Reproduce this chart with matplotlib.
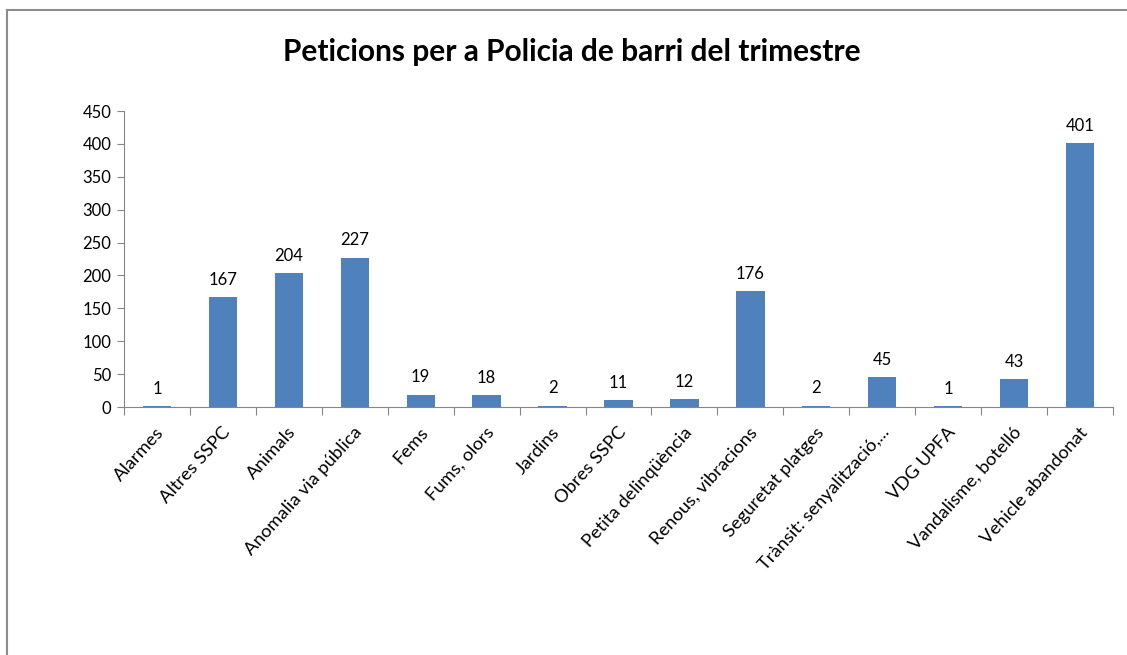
import matplotlib.pyplot as plt
from matplotlib.lines import Line2D

# Data
categories = ['Alarmes', 'Altres SSPC', 'Animals', 'Anomalia via pública', 'Fems',
              'Fums, olors', 'Jardins', 'Obres SSPC', 'Petita delinqüència',
              'Renous, vibracions', 'Seguretat platges', 'Trànsit: senyalització,...',
              'VDG UPFA', 'Vandalisme, botelló', 'Vehicle abandonat']
values = [1, 167, 204, 227, 19, 18, 2, 11, 12, 176, 2, 45, 1, 43, 401]
y_ticks = list(range(0, 451, 50))

plt.rcParams['font.family'] = ['Lato', 'DejaVu Sans']

fig = plt.figure(figsize=(11.27, 6.55), dpi=100)
ax = fig.add_axes([0.110, 0.3786, 0.8776, 0.4519])

x = list(range(len(categories)))
ax.bar(x, values, width=0.43, color='#4F81BD')

# Value labels above each bar
for xi, v in zip(x, values):
    ax.text(xi, v + 14, str(v), ha='center', va='bottom', fontsize=12)

ax.set_xlim(-0.5, len(categories) - 0.5)
ax.set_ylim(0, 450)
ax.set_yticks(y_ticks)
ax.tick_params(axis='y', labelsize=12, length=5, color='#868686', pad=4)

# Category ticks sit between the bars
ax.set_xticks([i - 0.5 for i in range(len(categories) + 1)])
ax.set_xticklabels([])
ax.tick_params(axis='x', length=6, color='#868686')
for xi, lab in zip(x, categories):
    ax.text(xi - 0.02, -26, lab, rotation=48, ha='right', va='top',
            rotation_mode='anchor', fontsize=13.2)

for side in ['top', 'right']:
    ax.spines[side].set_visible(False)
for side in ['left', 'bottom']:
    ax.spines[side].set_color('#868686')

fig.text(0.5075, 0.92, 'Peticions per a Policia de barri del trimestre',
         ha='center', va='center', fontsize=21.5, fontweight='bold')

# Chart frame (partly cut off at the right and bottom)
fig.add_artist(Line2D([7 / 1127, 1.0], [1 - 10 / 655, 1 - 10 / 655], color='#8c8c8c', lw=1.5))
fig.add_artist(Line2D([7 / 1127, 7 / 1127], [0.0, 1 - 10 / 655], color='#8c8c8c', lw=1.5))

fig.savefig('out.png', dpi=100)
